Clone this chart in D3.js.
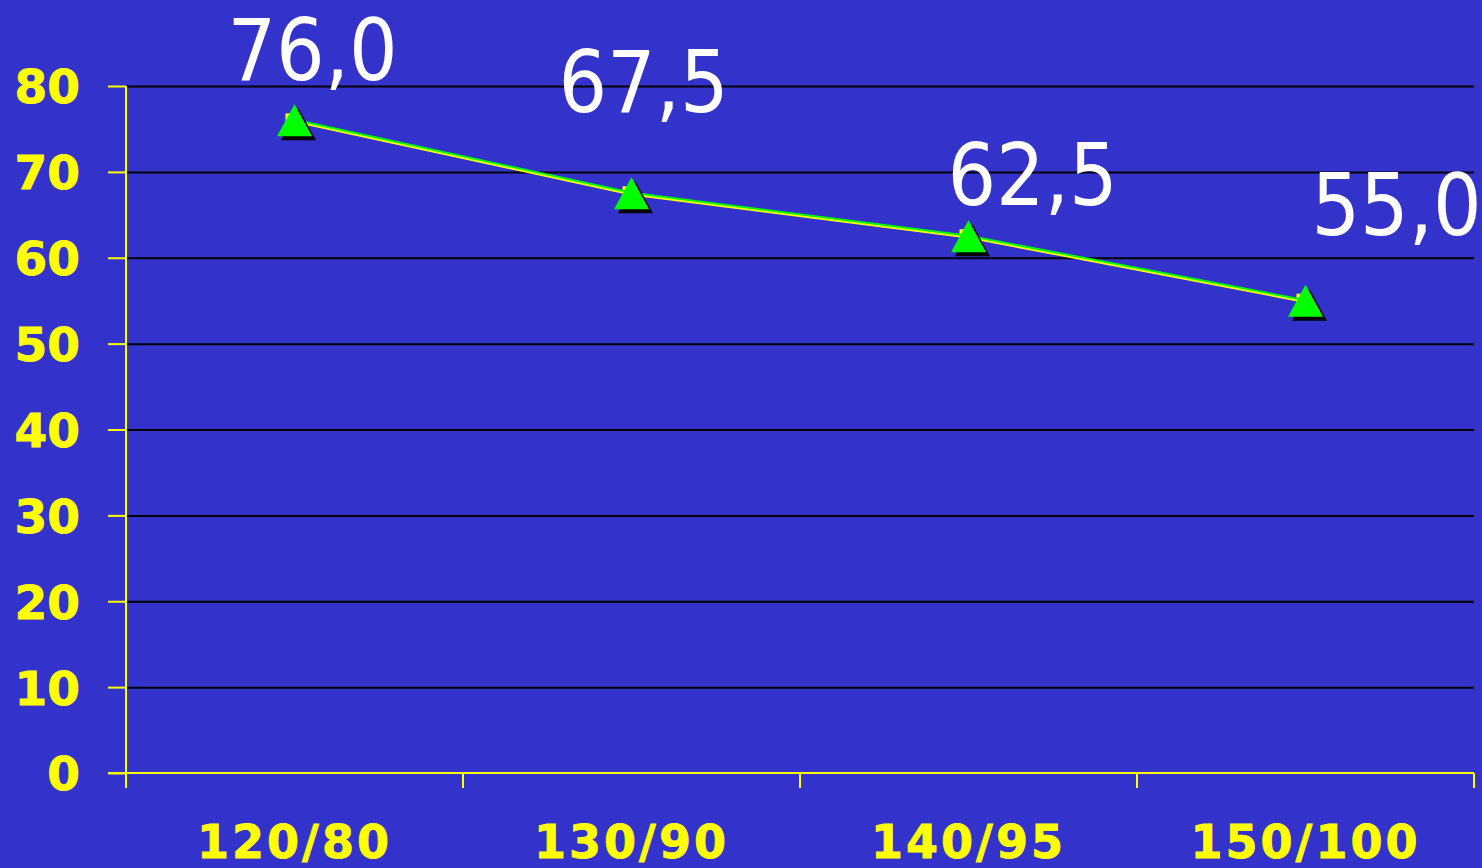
<!DOCTYPE html>
<html>
<head>
<meta charset="utf-8">
<script src="https://cdn.jsdelivr.net/npm/d3@7"></script>
<style>
  html, body { margin: 0; padding: 0; background: #3333cc; }
  svg { display: block; }
</style>
</head>
<body>
<svg id="chart" width="1482" height="868"></svg>
<script>
// Blood pressure categories and the values plotted for each
const categories = ["120/80", "130/90", "140/95", "150/100"];
const values = [76.0, 67.5, 62.5, 55.0];
const yTickValues = [0, 10, 20, 30, 40, 50, 60, 70, 80];

// Free-placed value labels: shift from each point (px)
const labelShift = [[18, -40], [12, -81], [64, -31], [91, -66]];

const W = 1482, H = 868;
const plot = { left: 126, right: 1474, top: 86, bottom: 773 };
const BG = "#3333cc", YEL = "#ffff00", GRN = "#00ff00";

const svg = d3.select("#chart");
svg.append("rect").attr("width", W).attr("height", H).attr("fill", BG);

const x = d3.scaleBand().domain(categories).range([plot.left, plot.right]).paddingInner(0).paddingOuter(0);
const y = d3.scaleLinear().domain([0, 80]).range([plot.bottom, plot.top]);
const cx = d => x(d) + x.bandwidth() / 2;

// Horizontal gridlines
const grid = svg.append("g").attr("transform", `translate(${plot.left},0)`)
  .call(d3.axisLeft(y).tickValues(yTickValues.filter(v => v > 0)).tickSize(-(plot.right - plot.left)).tickFormat(""));
grid.select(".domain").remove();
grid.selectAll("line").attr("stroke", "#000").attr("stroke-width", 2);

// Y axis
const yAxis = svg.append("g").attr("transform", `translate(${plot.left},0)`)
  .call(d3.axisLeft(y).tickValues(yTickValues).tickSize(18).tickPadding(28).tickFormat(d3.format("d")));
yAxis.select(".domain").remove();
yAxis.selectAll("line").attr("stroke", YEL).attr("stroke-width", 2);
yAxis.selectAll("text")
  .attr("fill", YEL).attr("font-family", "'DejaVu Sans', Verdana, sans-serif")
  .attr("font-weight", "bold").attr("font-size", 47).attr("dy", "0.36em")
  .attr("stroke", YEL).attr("stroke-width", 0.8);
svg.append("line")
  .attr("x1", plot.left).attr("x2", plot.left)
  .attr("y1", y(80)).attr("y2", plot.bottom + 15)
  .attr("stroke", YEL).attr("stroke-width", 2);

// X axis: baseline, boundary ticks, category labels
svg.append("line")
  .attr("x1", plot.left - 18).attr("x2", plot.right)
  .attr("y1", y(0)).attr("y2", y(0))
  .attr("stroke", YEL).attr("stroke-width", 2);
const edges = categories.map(c => x(c)).concat([x(categories[categories.length - 1]) + x.bandwidth()]);
svg.append("g").selectAll("line").data(edges.slice(1)).join("line")
  .attr("x1", d => d).attr("x2", d => d)
  .attr("y1", y(0)).attr("y2", y(0) + 15)
  .attr("stroke", YEL).attr("stroke-width", 2);
const xAxis = svg.append("g").attr("transform", `translate(0,${plot.bottom})`)
  .call(d3.axisBottom(x).tickSize(0).tickPadding(52));
xAxis.select(".domain").remove();
xAxis.selectAll("text")
  .attr("fill", YEL).attr("font-family", "'DejaVu Sans', Verdana, sans-serif")
  .attr("font-weight", "bold").attr("font-size", 46).attr("letter-spacing", 3)
  .attr("stroke", YEL).attr("stroke-width", 0.8);

// Series line (yellow underlay, green on top)
const pts = categories.map((c, i) => [cx(c), y(values[i])]);
const line = d3.line();
svg.append("path").attr("d", line(pts)).attr("fill", "none")
  .attr("stroke", YEL).attr("stroke-width", 2.5).attr("transform", "translate(0,1)");
svg.append("g").selectAll("rect").data(pts).join("rect")
  .attr("x", d => d[0] - 9).attr("y", d => d[1] - 7)
  .attr("width", 14).attr("height", 14).attr("fill", YEL);
svg.append("path").attr("d", line(pts)).attr("fill", "none")
  .attr("stroke", GRN).attr("stroke-width", 2).attr("transform", "translate(0,-0.5)");

// Triangle markers with drop shadow (box-centred on the point)
const triPath = "M0,-16L17.5,16L-17.5,16Z";
svg.append("g").selectAll("path").data(pts).join("path")
  .attr("d", triPath).attr("fill", "#000")
  .attr("transform", d => `translate(${d[0] + 4},${d[1] + 4})`);
svg.append("g").selectAll("path").data(pts).join("path")
  .attr("d", triPath).attr("fill", GRN)
  .attr("transform", d => `translate(${d[0]},${d[1]})`);

// Value labels
const fmt = v => v.toFixed(1).replace(".", ",");
svg.append("g").selectAll("text").data(values).join("text")
  .attr("x", (d, i) => pts[i][0] + labelShift[i][0])
  .attr("y", (d, i) => pts[i][1] + labelShift[i][1])
  .attr("text-anchor", "middle")
  .attr("fill", "#fff")
  .attr("font-family", "'DejaVu Sans Condensed', 'DejaVu Sans', sans-serif")
  .attr("font-stretch", "condensed")
  .attr("font-size", 85)
  .text(fmt);
</script>
</body>
</html>
